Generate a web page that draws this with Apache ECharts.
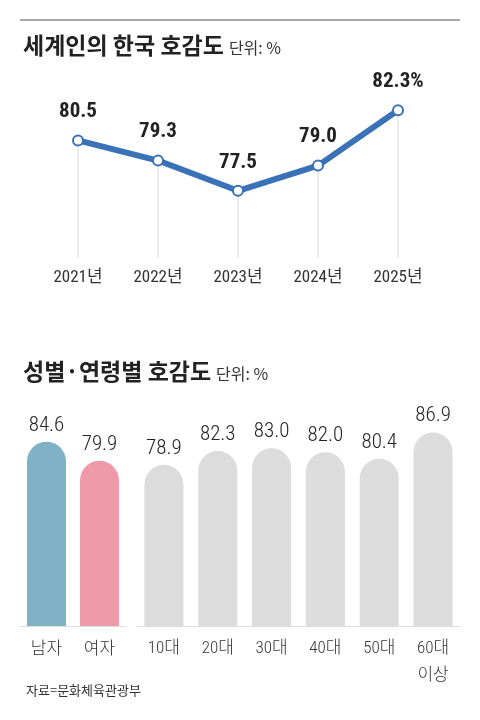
<!DOCTYPE html>
<html><head><meta charset="utf-8">
<script src="https://cdn.jsdelivr.net/npm/echarts@6/dist/echarts.min.js"></script>
<style>html,body{margin:0;padding:0;background:#fff}#c{width:480px;height:720px}</style>
</head><body><div id="c"></div>
<script>
const years = ['2021년','2022년','2023년','2024년','2025년'];
const yearValues = [80.5, 79.3, 77.5, 79.0, 82.3];
const genderCats = ['남자','여자'];
const genderValues = [84.6, 79.9];
const ageCats = ['10대','20대','30대','40대','50대','60대\n이상'];
const ageValues = [78.9, 82.3, 83.0, 82.0, 80.4, 86.9];

const NUM = '"Roboto Condensed","Roboto","Noto Sans CJK KR",sans-serif';
const KR = '"Noto Sans CJK KR","Noto Sans",sans-serif';

const chart = echarts.init(document.getElementById('c'), null, {renderer:'canvas'});
const titleRich = {b:{fontFamily:KR,fontSize:23,fontWeight:'bold',color:'#222'},u:{fontFamily:KR,fontSize:16,fontWeight:'normal',color:'#333',padding:[4,0,0,0]}};
chart.setOption({
  animation:false,
  backgroundColor:'#fff',
  title:[
    {left:18, top:29, text:'{b|세계인의 한국 호감도} {u|단위: %}', textStyle:{fontWeight:'normal',rich:titleRich}},
    {left:18, top:355, text:'{b|성별·연령별 호감도} {u|단위: %}', textStyle:{fontWeight:'normal',rich:titleRich}},
    {left:21, top:679, text:'자료=문화체육관광부',
     textStyle:{fontFamily:KR,fontSize:13,fontWeight:'normal',color:'#333'}}
  ],
  graphic:[{type:'line',shape:{x1:20,y1:20,x2:460,y2:20},style:{stroke:'#8a8a8a',lineWidth:1.5}}],
  grid:[
    {left:38, width:400, top:90, height:168},
    {left:20, width:106, top:420, height:206},
    {left:137, width:323, top:420, height:206}
  ],
  xAxis:[
    {gridIndex:0,type:'category',data:years,axisLine:{show:false},axisTick:{show:false},
     axisLabel:{margin:11,fontFamily:NUM,fontSize:17,color:'#333'}},
    {gridIndex:1,type:'category',data:genderCats,axisLine:{lineStyle:{color:'#ddd',width:1}},axisTick:{show:false},
     axisLabel:{margin:9,fontFamily:KR,fontSize:17,fontWeight:300,color:'#333',lineHeight:26}},
    {gridIndex:2,type:'category',data:ageCats,axisLine:{lineStyle:{color:'#ddd',width:1}},axisTick:{show:false},
     axisLabel:{margin:9,fontFamily:NUM,fontSize:17,fontWeight:300,color:'#333',lineHeight:27}}
  ],
  yAxis:[
    {gridIndex:0,type:'value',min:73.5,max:83.5,show:false},
    {gridIndex:1,type:'value',min:39,max:90,show:false},
    {gridIndex:2,type:'value',min:39,max:90,show:false}
  ],
  series:[
    {type:'bar',xAxisIndex:0,yAxisIndex:0,data:yearValues,barWidth:1,itemStyle:{color:'#d9d9d9'},silent:true},
    {type:'line',xAxisIndex:0,yAxisIndex:0,data:yearValues,
     lineStyle:{color:'#3a72b8',width:6},itemStyle:{color:'#fff',borderColor:'#3a72b8',borderWidth:2},
     symbol:'circle',symbolSize:10,
     label:{show:true,position:'top',distance:12,fontFamily:NUM,fontSize:21,fontWeight:'bold',color:'#222',
       formatter:p=>p.value.toFixed(1)+(p.dataIndex===yearValues.length-1?'%':'')}},
    {type:'bar',xAxisIndex:1,yAxisIndex:1,barWidth:39,
     data:genderValues.map((v,i)=>({value:v,itemStyle:{color:i===0?'#7fb1c7':'#ef9aa8'}})),
     itemStyle:{borderRadius:[20,20,0,0]},
     label:{show:true,position:'top',distance:6,fontFamily:NUM,fontSize:21,fontWeight:300,color:'#222',formatter:p=>p.value.toFixed(1)}},
    {type:'bar',xAxisIndex:2,yAxisIndex:2,barWidth:39,data:ageValues,
     itemStyle:{color:'#dcdcdc',borderRadius:[20,20,0,0]},
     label:{show:true,position:'top',distance:6,fontFamily:NUM,fontSize:21,fontWeight:300,color:'#222',formatter:p=>p.value.toFixed(1)}}
  ]
});
</script></body></html>
